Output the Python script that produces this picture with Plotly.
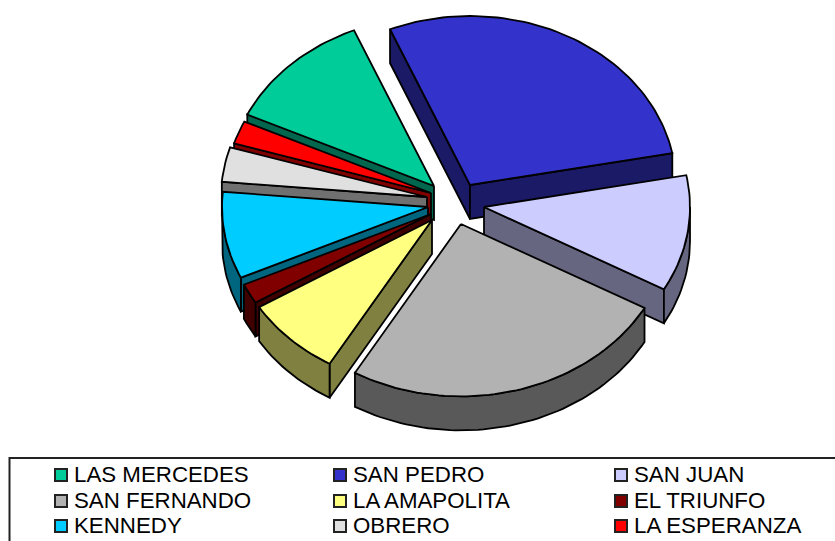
import math
import plotly.graph_objects as go

# --- data -----------------------------------------------------------------
categories = ["LAS MERCEDES", "SAN PEDRO", "SAN JUAN", "SAN FERNANDO", "LA AMAPOLITA",
              "EL TRIUNFO", "KENNEDY", "OBRERO", "LA ESPERANZA"]
values = [11.7, 28.3, 11.1, 25.3, 7.8, 1.9, 8.3, 3.3, 2.2]

# --- style ----------------------------------------------------------------
colors = ["#00CC99", "#3333CC", "#CCCCFF", "#B2B2B2", "#FFFF80",
          "#800000", "#00CCFF", "#E0E0E0", "#FF0000"]
side_colors = ["#00664D", "#1A1A66", "#666680", "#595959", "#808040",
               "#400000", "#006680", "#707070", "#800000"]
START_ANGLE = 295.0
RX, RY, DEPTH = 206.0, 169.0, 34.0
CENTER = (432.0, 200.0)
# per-slice explosion offset of the apex from the pie centre, and radius scale
explode = [(2, -14), (38, -15), (52, 7), (29, 24), (0, 20), (-1, 14), (-4, 7), (-5, -3), (-1, -7)]
radius_scale = [1, 1, 1, 1.02, 0.985, 1, 1, 1, 1]
# painter's order, back to front
draw_order = [0, 1, 8, 7, 6, 2, 5, 4, 3]
EDGE = "#000000"


def pt(cx, cy, t, s, dz=0.0):
    r = math.radians(t)
    return cx + s * RX * math.sin(r), cy - s * RY * math.cos(r) + dz


def poly(fig, pts, fill):
    xs = [p[0] for p in pts] + [pts[0][0]]
    ys = [p[1] for p in pts] + [pts[0][1]]
    fig.add_trace(go.Scatter(x=xs, y=ys, mode="lines", fill="toself", fillcolor=fill,
                             line=dict(color=EDGE, width=1.8), showlegend=False, hoverinfo="skip"))


def arc(cx, cy, t1, t2, s, dz=0.0):
    n = max(2, int((t2 - t1) / 1.5))
    return [pt(cx, cy, t1 + (t2 - t1) * i / n, s, dz) for i in range(n + 1)]


fig = go.Figure()

total = sum(values)
spans = []
a = START_ANGLE
for v in values:
    spans.append((a, a + v / total * 360.0))
    a = spans[-1][1]

for i in draw_order:
    t1, t2 = spans[i]
    s = radius_scale[i]
    cx, cy = CENTER[0] + explode[i][0], CENTER[1] + explode[i][1]
    apex, apex_low = (cx, cy), (cx, cy + DEPTH)
    # radial faces: only those turned towards the viewer
    if math.sin(math.radians(t1)) < 0:
        poly(fig, [apex, pt(cx, cy, t1, s), pt(cx, cy, t1, s, DEPTH), apex_low], side_colors[i])
    if math.sin(math.radians(t2)) > 0:
        poly(fig, [apex, pt(cx, cy, t2, s), pt(cx, cy, t2, s, DEPTH), apex_low], side_colors[i])
    # outer wall, front half only (angles checked across the 360 wrap)
    for k in (0, 360):
        lo, hi = max(t1, 90 + k), min(t2, 270 + k)
        if hi > lo:
            poly(fig, arc(cx, cy, lo, hi, s) + arc(cx, cy, lo, hi, s, DEPTH)[::-1], side_colors[i])
    # top surface
    poly(fig, [apex] + arc(cx, cy, t1, t2, s), colors[i])

# --- legend (three columns in a clipped box, as in the reference) ---------
COLS = [61, 340, 621]
ROWS = [475, 501, 526]
fig.add_shape(type="rect", x0=9.5, x1=850, y0=458, y1=560, line=dict(color="#222222", width=2), layer="below")
for i, name in enumerate(categories):
    x, y = COLS[i % 3], ROWS[i // 3]
    fig.add_trace(go.Scatter(x=[x], y=[y], mode="markers", showlegend=False, hoverinfo="skip",
                             marker=dict(symbol="square", size=12, color=colors[i],
                                         line=dict(color="#222222", width=2))))
    fig.add_annotation(x=x + 10.5, y=y - 0.5, text=name, showarrow=False, xanchor="left", yanchor="middle",
                       font=dict(family="Liberation Sans, Arial, sans-serif", size=22.3, color="#000000"))

fig.update_layout(
    width=835, height=541, margin=dict(l=0, r=0, t=0, b=0),
    paper_bgcolor="#FFFFFF", plot_bgcolor="#FFFFFF", showlegend=False,
    xaxis=dict(range=[0, 835], visible=False, fixedrange=True),
    yaxis=dict(range=[541, 0], visible=False, fixedrange=True),
)
fig.write_html("out.html", config={"displayModeBar": False},
               post_script="document.body.style.margin='0';document.body.style.overflow='hidden';")
